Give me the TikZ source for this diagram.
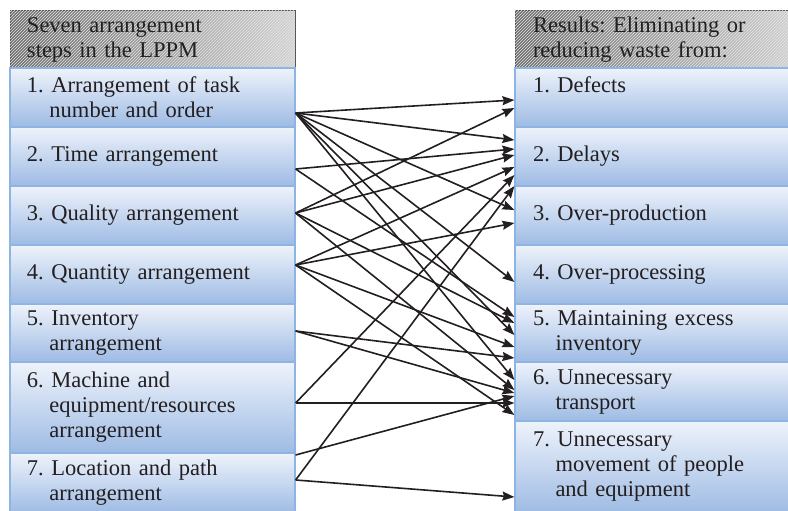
\documentclass[tikz,border=0pt]{standalone}
\usepackage{fontspec}
\setmainfont{Liberation Serif}
\usetikzlibrary{arrows.meta,patterns}
\definecolor{boxtop}{RGB}{238,243,251}
\definecolor{boxbot}{RGB}{158,187,228}
\definecolor{boxline}{RGB}{141,180,226}
\definecolor{headdark}{RGB}{110,110,110}
\definecolor{headlight}{RGB}{210,210,210}
\definecolor{headline}{RGB}{80,80,80}
\definecolor{ink}{RGB}{35,31,32}
\newcommand{\hind}{\hspace*{1em}}
\begin{document}
\begin{tikzpicture}[x=1pt, y=-1pt, line width=1.6pt, draw=ink, >={Stealth[length=12pt,width=9pt,inset=1.5pt]},
lppm box/.style={rectangle, draw=boxline, line width=1.2pt, top color=boxtop, bottom color=boxbot, minimum width=285pt, text width=251pt, inner xsep=17pt, inner ysep=0pt, minimum height=59pt, align=left, text=ink},
waste box/.style={lppm box, text width=249pt, inner xsep=18pt},
title box/.style={lppm box, draw=headline, line width=1pt, left color=headdark, right color=headlight, minimum height=58pt, postaction={pattern=north east lines, pattern color=white!80!gray}}]
\useasboundingbox (0,0) rectangle (788,511);
\begin{scope}[every node/.style={font=\fontsize{22.5}{25}\selectfont\frenchspacing}]
% seven arrangement steps
\node[title box] (lhead) at (152.5,40) {Seven arrangement\\steps in the LPPM};
\node[lppm box] (l1) at (152.5,97.5) {1. Arrangement of task\\\hind number and order};
\node[lppm box] (l2) at (152.5,156.5) {2. Time arrangement};
\node[lppm box] (l3) at (152.5,215.5) {3. Quality arrangement};
\node[lppm box] (l4) at (152.5,274.5) {4. Quantity arrangement};
\node[lppm box, minimum height=58pt] (l5) at (152.5,333) {5. Inventory\\\hind arrangement};
\node[lppm box, minimum height=91pt] (l6) at (152.5,407.5) {6. Machine and\\\hind equipment/resources\\\hind arrangement};
\node[lppm box, minimum height=60pt] (l7) at (152.5,483) {7. Location and path\\\hind arrangement};
% results
\node[title box, text width=249pt, inner xsep=18pt] (rhead) at (657.5,40) {Results: Eliminating or\\reducing waste from:};
\node[waste box] (r1) at (657.5,97.5) {1. Defects\\\phantom{1.}};
\node[waste box] (r2) at (657.5,156.5) {2. Delays};
\node[waste box] (r3) at (657.5,215.5) {3. Over-production};
\node[waste box] (r4) at (657.5,274.5) {4. Over-processing};
\node[waste box, minimum height=58pt] (r5) at (657.5,333) {5. Maintaining excess\\\hind inventory};
\node[waste box] (r6) at (657.5,391.5) {6. Unnecessary\\\hind transport};
\node[waste box, minimum height=92pt] (r7) at (657.5,467) {7. Unnecessary\\\hind movement of people\\\hind and equipment};
\end{scope}
\begin{scope}
\draw[->] ([yshift=-15.5pt]l1.east) -- ([yshift=-2.5pt]r1.west);
\draw[->] ([yshift=-15.5pt]l1.east) -- ([yshift=16.5pt]r2.west);
\draw[->] ([yshift=-15.5pt]l1.east) -- ([yshift=5.5pt]r3.west);
\draw[->] ([yshift=-15.5pt]l1.east) -- ([yshift=-7.5pt]r4.west);
\draw[->] ([yshift=-15.5pt]l1.east) -- ([yshift=-2pt]r5.west);
\draw[->] ([yshift=-15.5pt]l1.east) -- ([yshift=11.5pt]r6.west);
\draw[->] ([yshift=-12.5pt]l2.east) -- ([yshift=7.5pt]r2.west);
\draw[->] ([yshift=-12.5pt]l2.east) -- ([yshift=16pt]r5.west);
\draw[->] ([yshift=2.5pt]l3.east) -- ([yshift=-10.5pt]r1.west);
\draw[->] ([yshift=2.5pt]l3.east) -- ([yshift=1.5pt]r2.west);
\draw[->] ([yshift=2.5pt]l3.east) -- ([yshift=10pt]r5.west);
\draw[->] ([yshift=2.5pt]l3.east) -- ([yshift=1.5pt]r6.west);
\draw[->] ([yshift=9.5pt]l4.east) -- ([yshift=-10.5pt]r2.west);
\draw[->] ([yshift=9.5pt]l4.east) -- ([yshift=-7.5pt]r3.west);
\draw[->] ([yshift=9.5pt]l4.east) -- ([yshift=-14pt]r5.west);
\draw[->] ([yshift=9.5pt]l4.east) -- ([yshift=-23.5pt]r6.west);
\draw[->] ([yshift=2pt]l5.east) -- ([yshift=-25pt]r5.west);
\draw[->] ([yshift=2pt]l5.east) -- ([yshift=-1.5pt]r6.west);
\draw[->] ([yshift=4.5pt]l6.east) -- ([yshift=-18.5pt]r2.west);
\draw[->] ([yshift=4.5pt]l6.east) -- ([yshift=-11.5pt]r6.west);
\draw[->] ([yshift=28pt]l7.east) -- ([yshift=-4.5pt]r6.west);
\draw[->] ([yshift=3pt]l7.east) -- ([yshift=-29.5pt]r2.west);
\draw[->] ([yshift=3pt]l7.east) -- ([yshift=-30pt]r7.west);
\end{scope}
\end{tikzpicture}
\end{document}
